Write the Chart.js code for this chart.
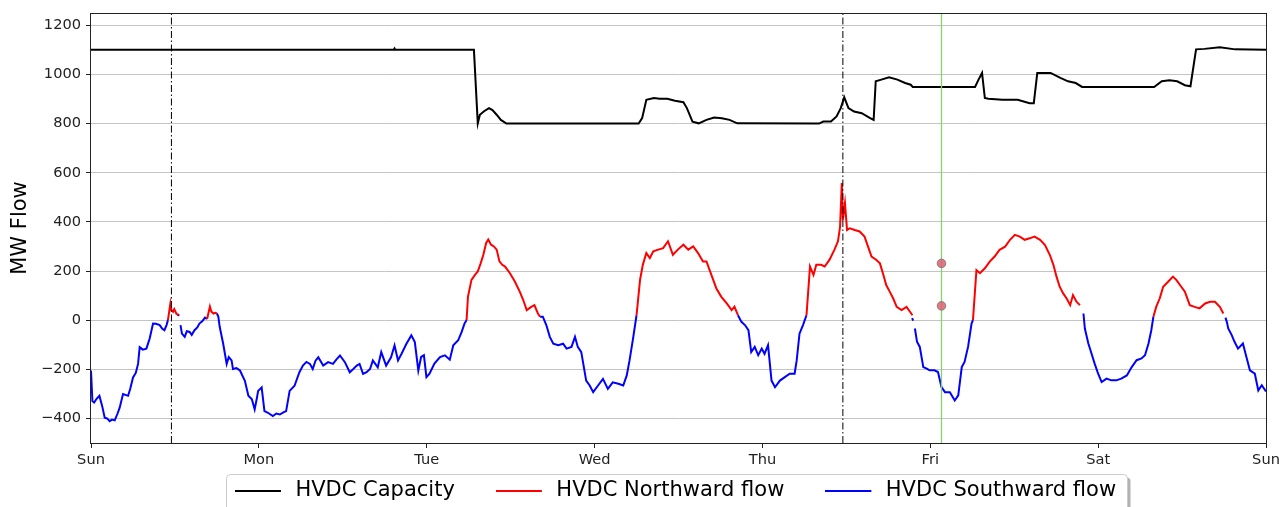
<!DOCTYPE html>
<html><head><meta charset="utf-8">
<script src="https://cdn.jsdelivr.net/npm/chart.js@4.4.1/dist/chart.umd.min.js"></script>
<style>
html,body{margin:0;padding:0;background:#fff;overflow:hidden;width:1279px;height:507px}
#wrap{position:relative;width:1279px;height:555px}
</style>
</head><body><div id="wrap"><canvas id="c"></canvas></div>
<script>
// x values are hours since Sunday 00:00, y values are MW
const dayLabels = ['Sun','Mon','Tue','Wed','Thu','Fri','Sat','Sun'];
const seriesNames = ['HVDC Capacity','HVDC Northward flow','HVDC Southward flow'];

const capacity = [[0,1100],[43.3,1100],[43.4,1105],[43.5,1100],[54.75,1100],[55.3,801],[55.6,836],[56.2,850],[56.9,863],[57.4,855],[58.0,836],[58.6,815],[59.4,800],[78.3,800],[78.8,822],[79.4,897],[80.5,904],[81.3,901],[82.4,901],[83.5,893],[84.7,887],[85.2,863],[86.0,808],[86.9,801],[88.0,815],[89.1,825],[90.2,822],[91.3,815],[92.4,801],[104.1,800],[104.7,808],[105.8,808],[106.6,829],[107.2,863],[107.7,907],[108.3,863],[109.1,849],[110.2,842],[111.4,822],[111.9,815],[112.2,972],[113.0,979],[114.1,988],[115.3,979],[116.4,965],[117.2,958],[117.5,949],[126.4,949],[126.9,979],[127.4,1006],[127.8,904],[128.3,901],[130.3,897],[132.5,897],[134.2,883],[134.8,883],[135.3,1006],[136.1,1006],[137.2,1006],[138.6,986],[139.7,972],[140.8,965],[141.7,949],[152.0,949],[153.1,972],[154.2,976],[155.3,972],[156.4,956],[157.2,952],[158.0,1102],[159.2,1104],[161.4,1111],[163.6,1102],[168,1100]];

const northFlow = [[11.0,0],[11.35,68],[11.5,40],[11.73,34],[11.9,45],[12.2,27],[12.5,20],[12.5,null],
[16.6,5],[17.0,55],[17.2,35],[17.5,27],[17.8,30],[18.0,27],[18.0,null],
[53.7,0],[53.9,96],[54.4,164],[54.9,184],[55.3,198],[55.7,230],[56.1,266],[56.5,314],[56.8,328],[57.2,307],[57.6,300],[58.0,287],[58.4,239],[58.8,225],[59.2,218],[59.9,191],[60.6,157],[61.3,116],[61.8,82],[62.3,41],[63.0,55],[63.4,61],[63.9,27],[64.2,14],[64.2,null],
[78.0,20],[78.5,164],[78.9,225],[79.4,273],[79.9,253],[80.4,280],[81.1,287],[81.8,293],[82.5,321],[83.2,266],[83.9,287],[84.7,307],[85.4,287],[86.1,300],[86.8,273],[87.5,239],[88.0,239],[88.7,184],[89.4,130],[90.1,96],[90.9,68],[91.6,41],[92.0,55],[92.5,20],[92.5,null],
[102.3,20],[102.8,218],[103.3,184],[103.7,225],[104.4,225],[104.9,218],[105.6,246],[106.3,287],[106.8,321],[107.1,380],[107.35,558],[107.5,408],[107.8,476],[108.1,367],[108.5,374],[109.2,367],[109.9,361],[110.6,340],[111.1,299],[111.6,259],[112.3,245],[112.8,231],[113.3,184],[113.7,143],[114.2,116],[114.7,88],[115.2,54],[115.9,41],[116.6,54],[117.1,34],[117.45,20],[117.45,null],
[126.1,0],[126.6,204],[127.1,191],[127.8,211],[128.5,238],[129.2,259],[129.9,286],[130.7,299],[131.4,327],[132.1,347],[132.8,340],[133.5,327],[134.2,333],[134.9,340],[135.7,327],[136.4,306],[137.1,265],[137.6,225],[138.05,177],[138.5,136],[139.0,109],[139.5,88],[140.0,61],[140.4,102],[140.9,75],[141.4,61],[141.4,null],
[151.9,14],[152.3,54],[152.8,88],[153.3,136],[154.0,156],[154.7,177],[155.2,163],[155.7,143],[156.4,116],[157.1,61],[157.8,54],[158.5,48],[159.3,68],[160.0,75],[160.7,75],[161.4,54],[161.9,27]];

const southFlow = [[0,-205],[0.2,-329],[0.45,-335],[0.8,-320],[1.2,-308],[1.6,-350],[1.96,-397],[2.3,-400],[2.67,-411],[3.0,-405],[3.39,-408],[3.8,-380],[4.1,-356],[4.58,-301],[5.3,-308],[5.6,-280],[6.01,-233],[6.4,-215],[6.73,-178],[6.96,-110],[7.4,-120],[7.92,-116],[8.39,-75],[8.87,-14],[9.3,-15],[9.82,-20],[10.2,-35],[10.5,-41],[10.8,-20],[11.0,0],[11.0,null],
[12.4,24],[12.6,18],[12.6,null],
[12.8,-20],[13.0,-55],[13.4,-68],[13.7,-45],[14.1,-48],[14.4,-60],[14.8,-41],[15.2,-30],[15.5,-14],[15.9,-5],[16.3,10],[16.6,5],[16.6,null],
[18.0,27],[18.2,15],[18.4,-27],[18.9,-96],[19.4,-178],[19.7,-150],[20.1,-164],[20.3,-199],[20.8,-195],[21.3,-205],[22.0,-247],[22.5,-308],[23.0,-322],[23.4,-363],[23.7,-320],[23.9,-288],[24.4,-274],[24.8,-370],[25.3,-377],[26.0,-390],[26.5,-380],[27.0,-384],[27.5,-375],[27.9,-370],[28.4,-288],[29.1,-267],[29.8,-212],[30.3,-185],[30.8,-170],[31.3,-178],[31.7,-199],[32.1,-165],[32.5,-151],[33.2,-185],[33.9,-171],[34.6,-178],[35.1,-160],[35.6,-144],[36.3,-171],[37.0,-212],[37.5,-199],[38.0,-185],[38.4,-178],[38.9,-219],[39.4,-212],[39.9,-199],[40.3,-164],[41.0,-192],[41.5,-130],[42.2,-185],[42.9,-151],[43.4,-103],[43.9,-164],[44.4,-137],[45.1,-96],[45.8,-62],[46.3,-89],[46.8,-205],[47.2,-150],[47.6,-143],[47.96,-232],[48.4,-218],[49.1,-177],[49.9,-150],[50.6,-143],[51.3,-161],[51.8,-102],[52.5,-82],[53.0,-48],[53.4,-14],[53.7,0],[53.7,null],
[64.2,14],[64.6,14],[65.1,-20],[65.6,-68],[66.1,-96],[66.8,-102],[67.5,-96],[68.0,-116],[68.7,-109],[69.2,-68],[69.6,-109],[70.1,-130],[70.8,-246],[71.3,-266],[71.8,-293],[72.5,-266],[73.2,-239],[73.9,-280],[74.6,-253],[75.4,-259],[76.1,-266],[76.6,-225],[77.0,-164],[77.5,-75],[78.0,20],[78.0,null],
[92.5,20],[93.0,-7],[93.5,-20],[94.0,-41],[94.4,-130],[94.9,-109],[95.4,-143],[95.9,-116],[96.3,-137],[96.8,-102],[97.3,-246],[97.8,-273],[98.5,-246],[99.2,-232],[99.9,-218],[100.6,-218],[100.9,-164],[101.3,-55],[101.8,-20],[102.3,20],[102.3,null],
[117.4,8],[117.55,-2],[117.55,null],
[117.8,-34],[118.1,-88],[118.5,-109],[119.0,-191],[119.5,-197],[119.9,-204],[120.6,-204],[121.1,-211],[121.6,-272],[122.1,-293],[122.8,-293],[123.5,-327],[124.0,-306],[124.5,-191],[124.9,-170],[125.4,-109],[125.9,-14],[126.1,0],[126.1,null],
[141.9,27],[142.1,-34],[142.6,-95],[143.05,-136],[143.5,-177],[144.0,-218],[144.5,-252],[145.2,-238],[145.9,-245],[146.6,-245],[147.3,-238],[148.1,-225],[148.8,-191],[149.5,-163],[150.2,-156],[150.7,-143],[151.2,-95],[151.6,-41],[151.9,14],[151.9,null],
[162.2,10],[162.4,-7],[162.6,-34],[163.1,-61],[163.5,-88],[164.0,-116],[164.7,-95],[165.2,-150],[165.7,-204],[166.4,-218],[166.9,-286],[167.4,-265],[168.0,-290]];

const eventHours = [11.5, 107.5];     // dash-dot markers
const nowHour = 121.6;                 // green marker
const nowMW = [231, 58];               // two round markers
const yRange = [-500, 1250];
const xRange = [0, 168];

const xy = arr => arr.map(p => ({x: p[0], y: p[1]}));
const FONT = 'DejaVu Sans';

// legend sample: a 46px line at the left of a 50px box
function legendLine(color) {
  const c = document.createElement('canvas');
  c.width = 50; c.height = 4;
  const g = c.getContext('2d');
  g.fillStyle = color;
  g.fillRect(0, 1, 46, 2);
  return c;
}

const vline = (h, color, dash, w) => ({
  label: '', data: [{x: h, y: yRange[0]}, {x: h, y: yRange[1]}],
  borderColor: color, borderWidth: w, borderDash: dash, pointRadius: 0, order: 0
});

const colors = ['#000000', '#ff0000', '#0000ff'];
const datasets = [
  {label: seriesNames[0], data: xy(capacity), borderColor: colors[0], borderWidth: 2, pointRadius: 0, pointStyle: legendLine(colors[0]), order: 1},
  {label: seriesNames[1], data: xy(northFlow), borderColor: colors[1], borderWidth: 2, pointRadius: 0, pointStyle: legendLine(colors[1]), order: 1},
  {label: seriesNames[2], data: xy(southFlow), borderColor: colors[2], borderWidth: 2, pointRadius: 0, pointStyle: legendLine(colors[2]), order: 1},
  ...eventHours.map(h => vline(h, '#000000', [7, 2.5, 1.5, 2.5], 1)),
  vline(nowHour, '#86d06e', [], 1.3),
  {label: '', data: nowMW.map(v => ({x: nowHour, y: v})), showLine: false, pointRadius: 4.3,
   pointBackgroundColor: 'rgba(222,96,112,0.85)', pointBorderColor: 'rgba(120,120,120,0.85)', pointBorderWidth: 1, order: -1}
];

const LEG_PAD = 41, LEG_FS = 21, LEG_CY = 491, LEG_SHIFT = -3;

const framePlugin = {
  id: 'frame',
  afterLayout(chart) {
    const lg = chart.legend;
    if (lg) {
      const h = lg.bottom - lg.top;
      lg.top = LEG_CY - LEG_PAD - LEG_FS / 2;
      lg.bottom = lg.top + h;
      lg.left += LEG_SHIFT;
      lg.right += LEG_SHIFT;
    }
  },
  beforeDraw(chart) {
    const ctx = chart.ctx;
    ctx.save();
    ctx.fillStyle = '#fff';
    ctx.fillRect(0, 0, chart.width, chart.height);
    // legend frame with shadow
    const l = 226.5, t = 474.5, r = 1127.5, b = 512;
    ctx.fillStyle = 'rgba(0,0,0,0.3)';
    ctx.beginPath(); ctx.roundRect(l + 3, t + 3, r - l, b - t, 4); ctx.fill();
    ctx.fillStyle = '#ffffff';
    ctx.strokeStyle = '#cccccc';
    ctx.lineWidth = 1;
    ctx.beginPath(); ctx.roundRect(l, t, r - l, b - t, 4); ctx.fill(); ctx.stroke();
    ctx.restore();
  },
  afterDatasetsDraw(chart) {
    const {ctx, chartArea: a} = chart;
    ctx.save();
    ctx.strokeStyle = '#222';
    ctx.lineWidth = 1;
    ctx.strokeRect(Math.round(a.left) - 0.5, Math.round(a.top) + 0.5, Math.round(a.right - a.left) + 1, Math.round(a.bottom - a.top));
    ctx.restore();
  }
};

new Chart(document.getElementById('c'), {
  type: 'line',
  data: {datasets},
  plugins: [framePlugin],
  options: {
    responsive: true, maintainAspectRatio: false, animation: false, devicePixelRatio: 1,
    events: [],
    layout: {padding: {left: 0, right: 13, top: 13, bottom: 0}},
    plugins: {
      tooltip: {enabled: false},
      legend: {
        position: 'bottom', fullSize: false,
        labels: {
          filter: item => item.datasetIndex < 3,
          sort: (a, b) => a.datasetIndex - b.datasetIndex,
          usePointStyle: true, pointStyleWidth: 50,
          padding: LEG_PAD, color: '#000',
          font: {family: FONT, size: LEG_FS}
        }
      }
    },
    scales: {
      x: {
        type: 'linear', min: xRange[0], max: xRange[1],
        border: {display: false},
        grid: {drawOnChartArea: false, tickLength: 5, tickColor: '#222'},
        ticks: {stepSize: 24, autoSkip: false, maxRotation: 0, padding: 3, color: '#222',
          font: {family: FONT, size: 14.6},
          callback: v => dayLabels[Math.round(v / 24)]},
        afterFit: s => { s.height = 40; s.paddingLeft = 0; s.paddingRight = 0; }
      },
      y: {
        min: yRange[0], max: yRange[1],
        border: {display: false},
        grid: {color: '#c4c4c4', lineWidth: 1, tickLength: 5, tickColor: '#222'},
        ticks: {stepSize: 200, includeBounds: false, padding: 5, color: '#222',
          font: {family: FONT, size: 14.6},
          callback: v => (v < 0 ? '\u2212' + Math.abs(v) : String(v))},
        title: {display: true, text: 'MW Flow', color: '#000', font: {family: FONT, size: 21}, padding: {top: 8, bottom: 0}},
        afterFit: s => { s.width = 91; s.paddingTop = 0; s.paddingBottom = 0; }
      }
    }
  }
});
</script>
</body></html>
